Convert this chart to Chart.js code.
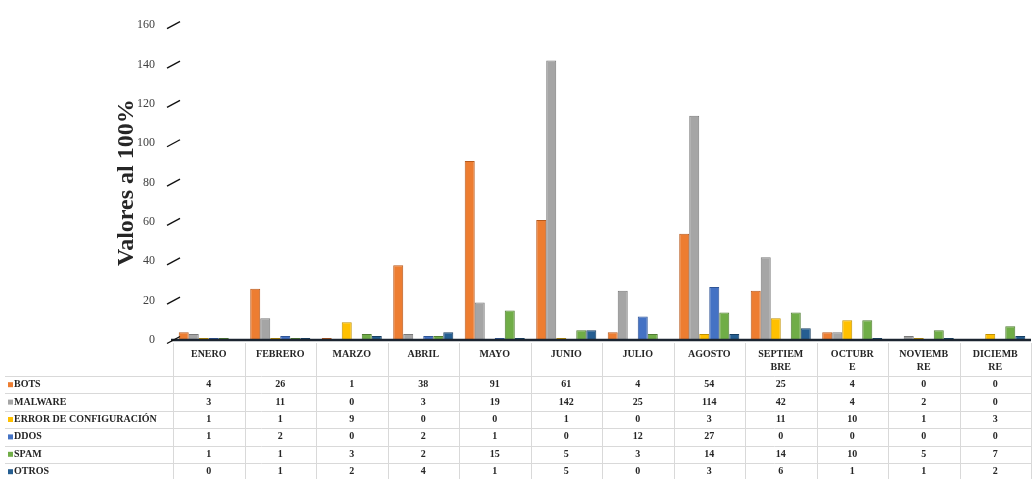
<!DOCTYPE html>
<html>
<head>
<meta charset="utf-8">
<script src="https://cdn.jsdelivr.net/npm/chart.js@4.4.0/dist/chart.umd.min.js"></script>
<style>
  html, body { margin: 0; padding: 0; background: #fff; }
  #wrap { width: 1035px; height: 479px; }
</style>
</head>
<body>
<div id="wrap"><canvas id="incidentChart"></canvas></div>
<script>
const months = ['ENERO', 'FEBRERO', 'MARZO', 'ABRIL', 'MAYO', 'JUNIO', 'JULIO', 'AGOSTO',
  ['SEPTIEM', 'BRE'], ['OCTUBR', 'E'], ['NOVIEMB', 'RE'], ['DICIEMB', 'RE']]
const seriesNames = ['BOTS', 'MALWARE', 'ERROR DE CONFIGURACIÓN', 'DDOS', 'SPAM', 'OTROS']
const bots = [4, 26, 1, 38, 91, 61, 4, 54, 25, 4, 0, 0]
const malware = [3, 11, 0, 3, 19, 142, 25, 114, 42, 4, 2, 0]
const errorConfig = [1, 1, 9, 0, 0, 1, 0, 3, 11, 10, 1, 3]
const ddos = [1, 2, 0, 2, 1, 0, 12, 27, 0, 0, 0, 0]
const spam = [1, 1, 3, 2, 15, 5, 3, 14, 14, 10, 5, 7]
const otros = [0, 1, 2, 4, 1, 5, 0, 3, 6, 1, 1, 2]
const yTicks = [0, 20, 40, 60, 80, 100, 120, 140, 160]

const seriesValues = [bots, malware, errorConfig, ddos, spam, otros]
const fills = ['#ED7D31', '#A5A5A5', '#FFC000', '#4472C4', '#70AD47', '#255E91']
const edges = ['#b85a1c', '#7a7a7a', '#c29200', '#2f5597', '#507d32', '#173f63']

const serif = "'Liberation Serif', 'DejaVu Serif', serif"
const textColor = '#262626'

// floor line and slanted ticks of the value axis
const floorPlugin = {
  id: 'floor',
  afterDatasetsDraw(chart) {
    const {ctx, chartArea, scales} = chart
    const y0 = scales.y.getPixelForValue(0)
    ctx.save()
    ctx.strokeStyle = '#1b2430'
    ctx.lineWidth = 2.5
    ctx.beginPath()
    ctx.moveTo(chartArea.left - 2, y0)
    ctx.lineTo(chartArea.right, y0)
    ctx.stroke()

    ctx.lineWidth = 1.4
    ctx.strokeStyle = '#111'
    yTicks.forEach(v => {
      const py = scales.y.getPixelForValue(v)
      ctx.beginPath()
      ctx.moveTo(chartArea.left - 6, py + 3.5)
      ctx.lineTo(chartArea.left + 7, py - 3.5)
      ctx.stroke()
    })
    ctx.restore()
  }
}

// data table under the plot
const tablePlugin = {
  id: 'dataTable',
  afterDraw(chart) {
    const {ctx, chartArea, scales} = chart
    const x = scales.x
    const colW = (chartArea.right - chartArea.left) / months.length
    const headTop = chartArea.bottom + 3
    const headBottom = 376
    const rowH = 17.4

    ctx.save()
    ctx.strokeStyle = '#d9d9d9'
    ctx.lineWidth = 1
    for (let i = 0; i <= months.length; i++) {
      const px = Math.round(chartArea.left + i * colW) + 0.5
      ctx.beginPath()
      ctx.moveTo(px, headTop)
      ctx.lineTo(px, 479)
      ctx.stroke()
    }
    for (let k = 0; k <= seriesNames.length; k++) {
      const py = Math.round(headBottom + k * rowH) + 0.5
      ctx.beginPath()
      ctx.moveTo(5, py)
      ctx.lineTo(chartArea.right, py)
      ctx.stroke()
    }

    ctx.fillStyle = textColor
    ctx.font = 'bold 10px ' + serif
    ctx.textAlign = 'center'
    ctx.textBaseline = 'middle'
    chart.data.labels.forEach((label, i) => {
      const cx = x.getPixelForValue(i)
      const lines = Array.isArray(label) ? label : [label]
      lines.forEach((line, j) => ctx.fillText(line, cx, 354 + j * 13))
    })

    chart.data.datasets.forEach((ds, k) => {
      const cy = headBottom + k * rowH + rowH / 2
      ds.data.forEach((v, i) => {
        ctx.fillStyle = textColor
        ctx.fillText(String(v), x.getPixelForValue(i), cy)
      })
      ctx.fillStyle = ds.backgroundColor
      ctx.fillRect(8, cy - 2.5, 5, 5)
      ctx.fillStyle = textColor
      ctx.textAlign = 'left'
      ctx.fillText(ds.label, 14, cy)
      ctx.textAlign = 'center'
    })
    ctx.restore()
  }
}

new Chart(document.getElementById('incidentChart'), {
  type: 'bar',
  data: {
    labels: months,
    datasets: seriesNames.map((name, k) => ({
      label: name,
      data: seriesValues[k],
      backgroundColor: fills[k],
      borderColor: edges[k],
      borderWidth: 1,
      categoryPercentage: 0.84,
      barPercentage: 1.0
    }))
  },
  options: {
    responsive: true,
    maintainAspectRatio: false,
    animation: false,
    layout: {
      padding: { left: 112, right: 4, top: 16, bottom: 139 }
    },
    plugins: {
      legend: { display: false },
      tooltip: { enabled: false }
    },
    scales: {
      x: {
        display: false
      },
      y: {
        min: 0,
        max: 160,
        afterBuildTicks: (scale) => {
          scale.ticks = yTicks.map(v => ({ value: v }))
        },
        afterFit: (scale) => {
          scale.width = 61
        },
        grid: { display: false, drawTicks: false },
        border: { display: false },
        ticks: {
          padding: 18,
          color: '#404040',
          font: { family: serif, size: 12 }
        },
        title: {
          display: true,
          text: 'Valores al 100%',
          color: textColor,
          padding: 0,
          font: { family: serif, size: 24, weight: 'bold' }
        }
      }
    }
  },
  plugins: [floorPlugin, tablePlugin]
})
</script>
</body>
</html>
